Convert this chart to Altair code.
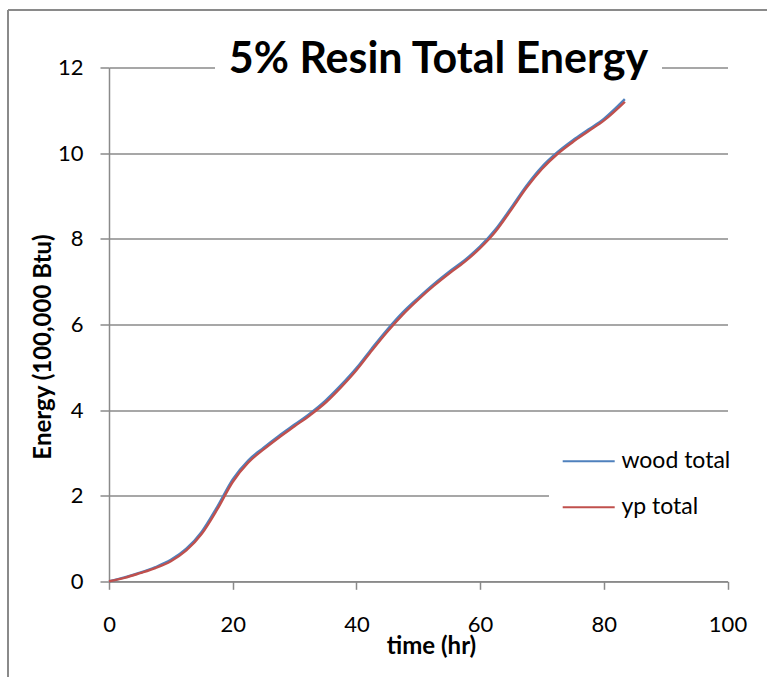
import altair as alt
import pandas as pd

# Elapsed time (hr) and cumulative energy (100,000 Btu) for the two totals
hours = [0, 2.5, 5, 7.5, 10, 12.5, 15, 17.5, 20, 22.5, 25, 27.5, 30, 32.5, 35,
         37.5, 40, 42.5, 45, 47.5, 50, 52.5, 55, 57.5, 60, 62.5, 65, 67.5, 70,
         72.5, 75, 77.5, 80, 83.4]
wood_total = [0, 0.09, 0.2, 0.33, 0.5, 0.76, 1.16, 1.74, 2.38, 2.82, 3.12, 3.4,
              3.66, 3.92, 4.22, 4.58, 4.98, 5.44, 5.88, 6.28, 6.62, 6.94, 7.23,
              7.5, 7.82, 8.22, 8.72, 9.24, 9.68, 10.02, 10.3, 10.55, 10.8, 11.26]
yp_total = [0, 0.08, 0.19, 0.31, 0.47, 0.72, 1.11, 1.68, 2.32, 2.77, 3.08, 3.36,
            3.62, 3.88, 4.17, 4.53, 4.93, 5.39, 5.83, 6.23, 6.58, 6.9, 7.19,
            7.46, 7.78, 8.17, 8.67, 9.19, 9.63, 9.98, 10.26, 10.51, 10.76, 11.2]

series_names = ["wood total", "yp total"]
series_colors = ["#4f81bd", "#c0504d"]
y_ticks = [0, 2, 4, 6, 8, 10, 12]
x_ticks = [0, 20, 40, 60, 80, 100]
title_text = "5% Resin Total Energy"

rows = []
for name, vals in zip(series_names, [wood_total, yp_total]):
    for h, v in zip(hours, vals):
        rows.append({"time": h, "energy": v, "series": name})
df = pd.DataFrame(rows)

GRAY = "#8a8a8a"
W, H = 618.5, 513.8

lines = alt.Chart(df).mark_line(interpolate="monotone", strokeWidth=2.4).encode(
    x=alt.X("time:Q",
            scale=alt.Scale(domain=[0, 100], nice=False, zero=False),
            axis=alt.Axis(values=x_ticks, title="time (hr)", grid=False,
                          tickSize=8, labelPadding=25,
                          titleX=322, titleY=71.7, titleBaseline="alphabetic",
                          titleAnchor="start", titleAlign="center")),
    y=alt.Y("energy:Q",
            scale=alt.Scale(domain=[0, 12], nice=False),
            axis=alt.Axis(values=y_ticks, title="Energy (100,000 Btu)",
                          grid=True, tickSize=9, labelPadding=17,
                          titleX=-59, titleY=279, titleBaseline="alphabetic",
                          titleAngle=270, titleAlign="center")),
    color=alt.Color("series:N",
                    scale=alt.Scale(domain=series_names, range=series_colors),
                    legend=alt.Legend(title=None, orient="none",
                                      legendX=440, legendY=354,
                                      fillColor="white", padding=25.7,
                                      symbolType="M-2,0H2", symbolSize=676,
                                      symbolStrokeWidth=2, labelOffset=18.7,
                                      rowPadding=20, labelFontSize=23,
                                      labelFont="Lato", labelColor="black")),
    order=alt.Order("series:N"),
)

# white band behind the title so the top gridline stops short of it
blank = alt.Chart(alt.Data(values=[{}])).mark_rect(color="white").encode(
    x=alt.value(106), x2=alt.value(553), y=alt.value(-8), y2=alt.value(8)
)
title = alt.Chart(alt.Data(values=[{}])).mark_text(
    font="Lato", fontWeight="bold", fontSize=43, align="center",
    baseline="alphabetic", color="black"
).encode(x=alt.value(329.5), y=alt.value(5.8), text=alt.value(title_text))

# outer chart frame (top and left edges)
frame_top = alt.Chart(alt.Data(values=[{}])).mark_rule(color=GRAY, strokeWidth=2).encode(
    x=alt.value(-101), x2=alt.value(700), y=alt.value(-57.5)
)
frame_left = alt.Chart(alt.Data(values=[{}])).mark_rule(color=GRAY, strokeWidth=2).encode(
    x=alt.value(-101), y=alt.value(-57.5), y2=alt.value(650)
)

chart = alt.layer(frame_top, frame_left, lines, blank, title).properties(
    width=W, height=H,
    autosize=alt.AutoSizeParams(type="none"),
    padding={"left": 109, "top": 67.5, "right": 767 - 109 - W, "bottom": 677 - 67.5 - H},
    background="white",
).configure_view(stroke=None).configure_axis(
    domainColor=GRAY, domainWidth=1.5, tickColor=GRAY, tickWidth=1.5,
    gridColor=GRAY, gridWidth=1.5, labelFont="Lato", labelFontSize=22,
    labelColor="black", titleFont="Lato", titleFontSize=24,
    titleFontWeight="bold", titleColor="black", labelFlush=False,
)

chart.save("out.html", embed_options={"renderer": "svg", "actions": False})
